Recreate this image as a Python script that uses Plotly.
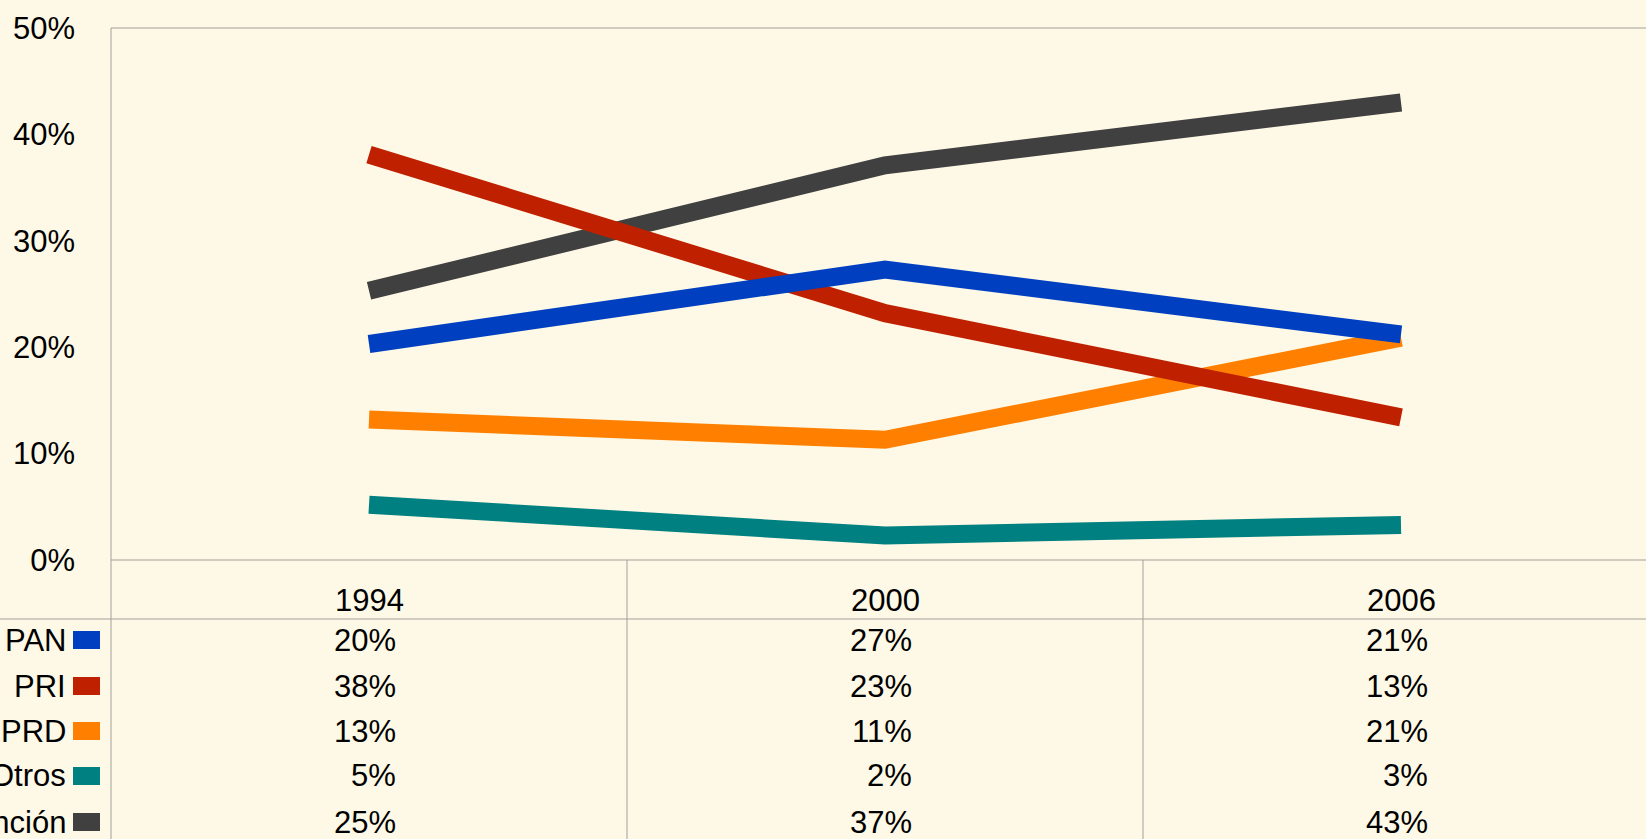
import plotly.graph_objects as go

# ---------------- data ----------------
years = ["1994", "2000", "2006"]
series_names = ["PAN", "PRI", "PRD", "Otros", "Abstención"]
pan = [20.3, 27.3, 21.2]
pri = [38.1, 23.2, 13.4]
prd = [13.2, 11.3, 20.9]
otros = [5.2, 2.3, 3.3]
abstencion = [25.3, 37.1, 43.0]
y_ticks = [0, 10, 20, 30, 40, 50]
y_ticktext = ["0%", "10%", "20%", "30%", "40%", "50%"]

colors = {
    "PAN": "#0040C0",
    "PRI": "#BF2000",
    "PRD": "#FF8000",
    "Otros": "#008080",
    "Abstención": "#404040",
}
values = {"PAN": pan, "PRI": pri, "PRD": prd, "Otros": otros, "Abstención": abstencion}

# ---------------- layout constants ----------------
W, H = 1646, 839
L, T, B = 111, 28, 560
PW, PH = W - L, B - T
COL = 516
BG = "#FEF9E6"
GRID = "#A3A09A"
FONT = "Liberation Sans, Arial, sans-serif"
FS = 31

def px(xp):
    return (xp - L) / PW

def py(yp):
    return (B - yp) / PH

header_y = 600
row_y = [640, 686, 731, 776, 822]

x_idx = list(range(len(years)))

fig = go.Figure()
# draw order: last series first so PAN ends on top
for name in reversed(series_names):
    fig.add_trace(go.Scatter(
        x=x_idx, y=values[name], mode="lines", name=name,
        line=dict(color=colors[name], width=18),
        showlegend=False, hoverinfo="skip",
    ))

shapes = []
line_style = dict(color=GRID, width=1)
shapes.append(dict(type="line", xref="paper", yref="paper", x0=0, x1=1, y0=1, y1=1, line=line_style))
shapes.append(dict(type="line", xref="paper", yref="paper", x0=0, x1=1, y0=0, y1=0, line=line_style))
shapes.append(dict(type="line", xref="paper", yref="paper", x0=px(0), x1=1, y0=py(619), y1=py(619), line=line_style))
shapes.append(dict(type="line", xref="paper", yref="paper", x0=0, x1=0, y0=1, y1=py(H + 5), line=line_style))
for i in range(len(years) - 1):
    xb = i + 0.5
    shapes.append(dict(type="line", xref="x", yref="paper", x0=xb, x1=xb, y0=0, y1=py(H + 5), line=line_style))
for name, ry in zip(series_names, row_y):
    shapes.append(dict(type="rect", xref="paper", yref="paper",
                       x0=px(73), x1=px(100), y0=py(ry + 9), y1=py(ry - 9),
                       fillcolor=colors[name], line=dict(width=0)))

annotations = []
tf = dict(family=FONT, size=FS, color="#000000")
for i, yr in enumerate(years):
    annotations.append(dict(x=i, xref="x", y=py(header_y), yref="paper", text=yr,
                            showarrow=False, xanchor="center", yanchor="middle", font=tf))
    for name, ry in zip(series_names, row_y):
        annotations.append(dict(x=i, xref="x", xshift=29, y=py(ry), yref="paper",
                                text=f"{round(values[name][i])}%", showarrow=False,
                                xanchor="right", yanchor="middle", font=tf))
for name, ry in zip(series_names, row_y):
    annotations.append(dict(x=px(68), xref="paper", y=py(ry), yref="paper", text=name,
                            showarrow=False, xanchor="right", yanchor="middle", font=tf))

fig.update_layout(
    width=W, height=H, autosize=False,
    margin=dict(l=L, r=0, t=T, b=H - B, pad=0),
    paper_bgcolor=BG, plot_bgcolor=BG,
    font=tf,
    showlegend=False,
    shapes=shapes,
    annotations=annotations,
    xaxis=dict(range=[-0.5, -0.5 + PW / COL], showticklabels=False, showgrid=False,
               zeroline=False, showline=False, ticks="", fixedrange=True),
    yaxis=dict(range=[0, 50], tickvals=y_ticks, ticktext=y_ticktext, showgrid=False,
               zeroline=False, showline=False, ticks="", ticklabelstandoff=35,
               tickfont=tf, fixedrange=True),
)

fig.write_html(
    "out.html",
    config={"displayModeBar": False},
    post_script="document.body.style.margin='0';document.body.style.padding='0';"
                "document.body.style.overflow='hidden';"
                "document.documentElement.style.background='" + BG + "';",
)
